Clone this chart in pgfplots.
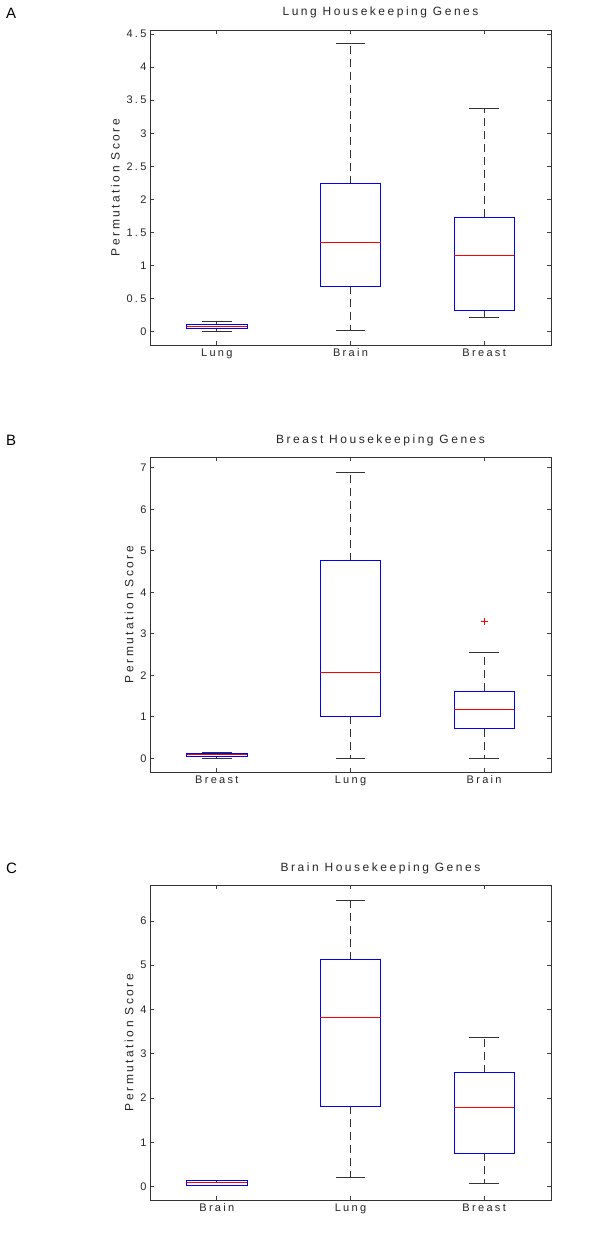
\documentclass[border=0pt]{standalone}
\usepackage{fontspec}
\setmainfont{Liberation Sans}[LetterSpace=21]
\usepackage{pgfplots}
\pgfplotsset{compat=1.18}
\usepgfplotslibrary{statistics}
\begin{document}
\begin{tikzpicture}
\path[use as bounding box] (0pt,0pt) rectangle (600pt,-1244pt);
\pgfplotsset{
  mypanel/.style={
    scale only axis, width=401pt, height=315pt,
    anchor=north west,
    xmin=0.5, xmax=3.5, xtick={1,2,3},
    tick align=inside, tick pos=both,
    major tick length=4pt,
    axis line style={black!80, line width=0.9pt},
    every tick/.style={black!75, line width=0.7pt},
    /pgf/number format/assume math mode=true,
    ticklabel style={font=\fontsize{11}{13}\selectfont, black!85},
    title style={font=\fontsize{12}{14}\selectfont, black!85, at={(0.5,1)}, anchor=base, yshift=8pt, xshift=30pt},
    ylabel style={font=\fontsize{12}{14}\selectfont, black!85},
    ylabel={Permutation Score},
    boxplot/draw direction=y,
    boxplot/every box/.style={draw=blue, line width=0.8pt},
    boxplot/every median/.style={draw=red, line width=0.9pt},
    boxplot/draw/lower whisker/.code={%
      \draw[black!80, line width=0.7pt, dash pattern=on 8pt off 5pt]
        (boxplot box cs:\pgfplotsboxplotvalue{lower quartile},0.5) --
        (boxplot box cs:\pgfplotsboxplotvalue{lower whisker},0.5);
      \draw[black!80, line width=0.8pt]
        (boxplot whisker cs:\pgfplotsboxplotvalue{lower whisker},0) --
        (boxplot whisker cs:\pgfplotsboxplotvalue{lower whisker},1);
    },
    boxplot/draw/upper whisker/.code={%
      \draw[black!80, line width=0.7pt, dash pattern=on 8pt off 5pt]
        (boxplot box cs:\pgfplotsboxplotvalue{upper quartile},0.5) --
        (boxplot box cs:\pgfplotsboxplotvalue{upper whisker},0.5);
      \draw[black!80, line width=0.8pt]
        (boxplot whisker cs:\pgfplotsboxplotvalue{upper whisker},0) --
        (boxplot whisker cs:\pgfplotsboxplotvalue{upper whisker},1);
    },
    boxplot/draw/median/.code={%
      \draw[red, line width=0.9pt]
        (boxplot box cs:\pgfplotsboxplotvalue{median},0) --
        (boxplot box cs:\pgfplotsboxplotvalue{median},1);
    },
    boxplot/box extend=0.45,
    boxplot/whisker extend=0.22,
  },
}
% Panel A
\node[anchor=north west, inner sep=0pt, font=\fontsize{15}{18}\selectfont] at (6pt,-8pt) {A};
\begin{axis}[mypanel, at={(150pt,-30pt)},
  ymin=-0.2, ymax=4.56, ytick={0,0.5,...,4.5},
  xticklabels={Lung,Brain,Breast},
  title={Lung Housekeeping Genes}]
\addplot[boxplot prepared={lower whisker=0.01, lower quartile=0.05, median=0.076, upper quartile=0.115, upper whisker=0.15, draw position=1}] coordinates {};
\addplot[boxplot prepared={lower whisker=0.02, lower quartile=0.69, median=1.355, upper quartile=2.24, upper whisker=4.35, draw position=2}] coordinates {};
\addplot[boxplot prepared={lower whisker=0.21, lower quartile=0.32, median=1.16, upper quartile=1.73, upper whisker=3.38, draw position=3}] coordinates {};
\end{axis}
% Panel B
\node[anchor=north west, inner sep=0pt, font=\fontsize{15}{18}\selectfont] at (6pt,-435pt) {B};
\begin{axis}[mypanel, at={(150pt,-457pt)},
  ymin=-0.33, ymax=7.26, ytick={0,1,...,7},
  xticklabels={Breast,Lung,Brain},
  title={Breast Housekeeping Genes}]
\addplot[boxplot prepared={lower whisker=0.0, lower quartile=0.05, median=0.09, upper quartile=0.13, upper whisker=0.14, draw position=1}] coordinates {};
\addplot[boxplot prepared={lower whisker=0.0, lower quartile=1.02, median=2.08, upper quartile=4.76, upper whisker=6.90, draw position=2}] coordinates {};
\addplot[boxplot prepared={lower whisker=0.0, lower quartile=0.715, median=1.17, upper quartile=1.61, upper whisker=2.54, draw position=3}, mark=+, mark size=3.5pt, mark options={draw=red, line width=0.7pt}] table[row sep=\\, y index=0] {3.29\\};
\end{axis}
% Panel C
\node[anchor=north west, inner sep=0pt, font=\fontsize{15}{18}\selectfont] at (6pt,-863pt) {C};
\begin{axis}[mypanel, at={(150pt,-885pt)},
  ymin=-0.3, ymax=6.81, ytick={0,1,...,6},
  xticklabels={Brain,Lung,Breast},
  title={Brain Housekeeping Genes}]
\addplot[boxplot prepared={lower whisker=0.03, lower quartile=0.04, median=0.09, upper quartile=0.135, upper whisker=0.14, draw position=1}] coordinates {};
\addplot[boxplot prepared={lower whisker=0.22, lower quartile=1.82, median=3.82, upper quartile=5.12, upper whisker=6.47, draw position=2}] coordinates {};
\addplot[boxplot prepared={lower whisker=0.07, lower quartile=0.76, median=1.78, upper quartile=2.57, upper whisker=3.38, draw position=3}] coordinates {};
\end{axis}
\end{tikzpicture}
\end{document}
